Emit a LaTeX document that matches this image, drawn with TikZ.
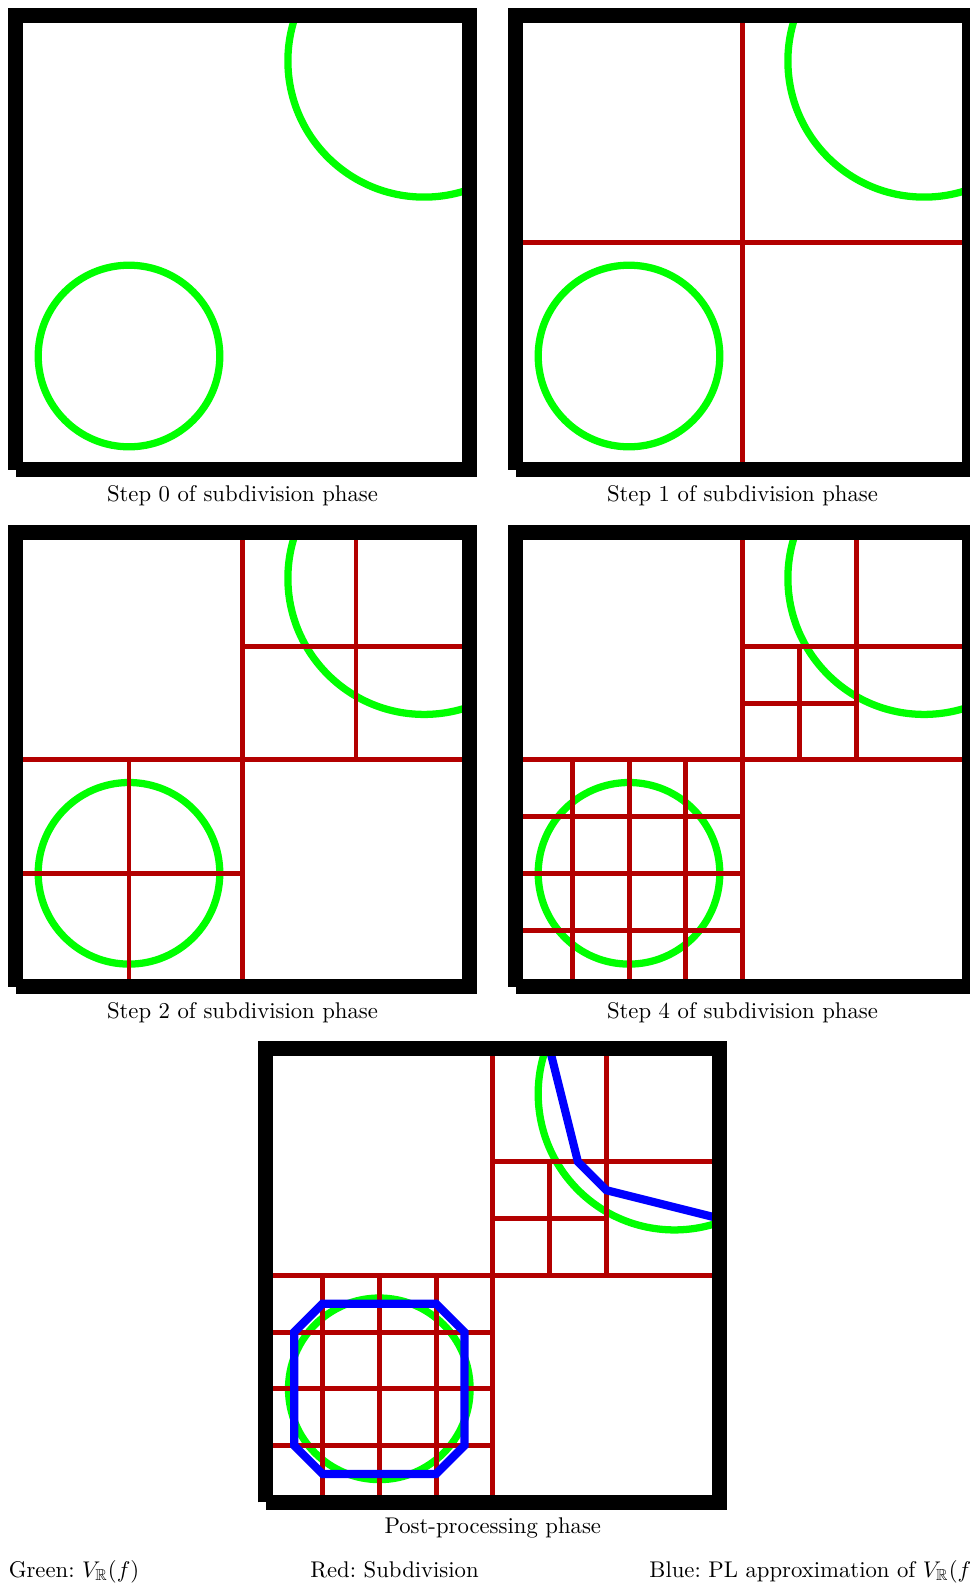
\documentclass[tikz,border=0pt]{standalone}
\usepackage{amsmath,amssymb}
\usepackage{xcolor}
\usepackage{tikz}
\usetikzlibrary{positioning,calc}
\definecolor{curvegreen}{HTML}{00FF00}
\definecolor{subdred}{HTML}{B30000}
\definecolor{plblue}{HTML}{0000FF}
\frenchspacing

\begin{document}
\begin{tikzpicture}[
  x=0.44045pt, y=-0.44045pt,
  every node/.append style={inner sep=0pt},
  frame/.style={draw=black, line width=6.6pt, line join=miter},
  cell/.style={draw=subdred, line width=2.2pt},
  curve/.style={draw=curvegreen, line width=3.2pt},
  approx/.style={draw=plblue, line width=3.6pt, line join=miter},
  caption/.style={anchor=base},
  legend/.style={anchor=base west}
]
\useasboundingbox (0,0) rectangle (969,1584);
\foreach \ox/\oy/\lvl/\txt in {15.5/469.5/0/Step 0 of subdivision phase, 515.5/469.5/1/Step 1 of subdivision phase, 15.5/986.8/2/Step 2 of subdivision phase, 515.5/986.8/4/Step 4 of subdivision phase, 265.8/1502.3/5/Post-processing phase} {
  \begin{scope}[shift={(\ox,\oy)}, x=199.96pt, y=199.96pt]
    \begin{scope}
      \clip (0,0) rectangle (1,1);
      \draw[curve] (0.25,0.25) circle (0.2);
      \draw[curve] (0.9,0.9) circle (0.3);
    \end{scope}
    \ifnum\lvl>0
      \draw[cell] (0.5,0) -- (0.5,1) (0,0.5) -- (1,0.5);
    \fi
    \ifnum\lvl>1
      \draw[cell] (0.75,0.5) -- (0.75,1) (0.5,0.75) -- (1,0.75);
      \draw[cell] (0.25,0) -- (0.25,0.5) (0,0.25) -- (0.5,0.25);
    \fi
    \ifnum\lvl>3
      \draw[cell] (0.625,0.5) -- (0.625,0.75) (0.5,0.625) -- (0.75,0.625);
      \foreach \t in {0.125,0.375}
        \draw[cell] (\t,0) -- (\t,0.5) (0,\t) -- (0.5,\t);
    \fi
    \ifnum\lvl>4
      \draw[approx] (0.125,0.4375) -- (0.375,0.4375) -- (0.4375,0.375) -- (0.4375,0.125)
        -- (0.375,0.0625) -- (0.125,0.0625) -- (0.0625,0.125) -- (0.0625,0.375) -- cycle;
      \draw[approx] (0.625,1) -- (0.6875,0.75) -- (0.75,0.6875) -- (1,0.625);
    \fi
    \draw[frame] (0,0) -- (0,1) -- (1,1) -- (1,0) -- (0,0);
    \coordinate (fb\lvl) at (0.5,0);
  \end{scope}
  \node[caption] (cap\lvl) at ($(fb\lvl)+(0,31.5)$) {\txt};
}
\node[legend] (leggreen) at (8.3,1577) {Green: $V_{\mathbb{R}}(f)$};
\node[legend] (legred) at (310,1577) {Red: Subdivision};
\node[legend] (legblue) at (649,1577) {Blue: PL approximation of $V_{\mathbb{R}}(f)$};
\end{tikzpicture}
\end{document}
